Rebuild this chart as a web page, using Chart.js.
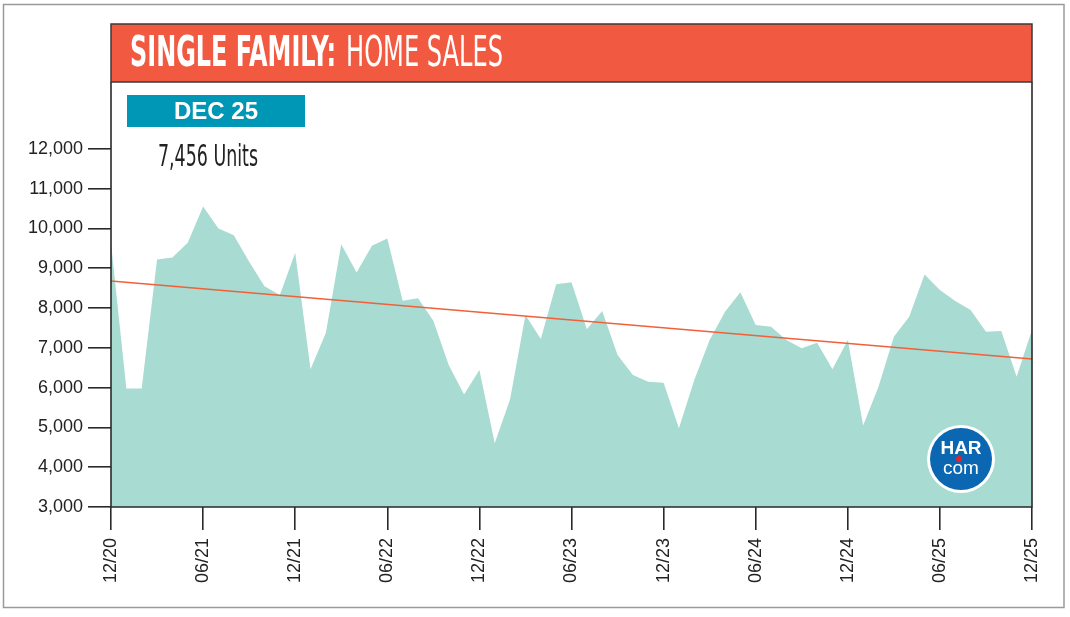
<!DOCTYPE html>
<html>
<head>
<meta charset="utf-8">
<title>Single Family: Home Sales</title>
<script src="https://cdn.jsdelivr.net/npm/chart.js@4.4.1/dist/chart.umd.min.js"></script>
<style>
  html, body { margin: 0; padding: 0; background: #fff; }
  #wrap { width: 1070px; height: 617px; }
</style>
</head>
<body>
<div id="wrap"><canvas id="salesChart" width="1070" height="617"></canvas></div>
<script>
// Monthly single family home sales, Dec 2020 - Dec 2025
const months = [
    '12/20', '01/21', '02/21', '03/21', '04/21', '05/21', '06/21', '07/21', '08/21', '09/21', '10/21', '11/21',
    '12/21', '01/22', '02/22', '03/22', '04/22', '05/22', '06/22', '07/22', '08/22', '09/22', '10/22', '11/22',
    '12/22', '01/23', '02/23', '03/23', '04/23', '05/23', '06/23', '07/23', '08/23', '09/23', '10/23', '11/23',
    '12/23', '01/24', '02/24', '03/24', '04/24', '05/24', '06/24', '07/24', '08/24', '09/24', '10/24', '11/24',
    '12/24', '01/25', '02/25', '03/25', '04/25', '05/25', '06/25', '07/25', '08/25', '09/25', '10/25', '11/25',
    '12/25'
];

const unitSales = [
    9630, 5980, 5980, 9220, 9270, 9640, 10550, 10000, 9830, 9160, 8550, 8330,
    9390, 6460, 7380, 9600, 8890, 9565, 9750, 8185, 8245, 7680, 6570, 5830,
    6440, 4600, 5705, 7825, 7220, 8595, 8645, 7465, 7925, 6820, 6315, 6150,
    6125, 4980, 6190, 7195, 7905, 8395, 7575, 7530, 7195, 6990, 7130, 6460,
    7195, 5045, 6020, 7280, 7780, 8845, 8450, 8175, 7950, 7405, 7420, 6275,
    7456
];

// Trend line end points (start month, end month)
const trendMonths = ['12/20', '12/25'];
const trendValues = [8680, 6720];

// Labelled months on the x axis
const tickMonths = ['12/20', '06/21', '12/21', '06/22', '12/22', '06/23', '12/23', '06/24', '12/24', '06/25', '12/25'];
// Labelled values on the y axis
const yTicks = [3000, 4000, 5000, 6000, 7000, 8000, 9000, 10000, 11000, 12000];

const titleBold = 'SINGLE FAMILY:';
const titleLight = 'HOME SALES';
const badgeText = 'DEC 25';
const latestText = '7,456 Units';

const NARROW = '"Liberation Sans Narrow", "DejaVu Sans Condensed", "Roboto", sans-serif';
const SANS = '"Liberation Sans", Arial, "Helvetica", sans-serif';

// Draw text squeezed horizontally to a given width
function fitText(ctx, text, x, y, width) {
    const w = ctx.measureText(text).width;
    ctx.save();
    ctx.translate(x, y);
    ctx.scale(width / w, 1);
    ctx.fillText(text, 0, 0);
    ctx.restore();
}

const decorations = {
    id: 'decorations',
    beforeDraw(chart) {
        const ctx = chart.ctx;
        ctx.save();
        ctx.fillStyle = '#fff';
        ctx.fillRect(0, 0, chart.width, chart.height);
        // outer border
        ctx.strokeStyle = '#9a9a9a';
        ctx.lineWidth = 1.5;
        ctx.strokeRect(3.5, 4.5, 1060.5, 603);
        ctx.restore();
    },
    afterDraw(chart) {
        const ctx = chart.ctx;
        const area = chart.chartArea;
        ctx.save();

        // plot frame
        ctx.strokeStyle = '#2a2a2a';
        ctx.lineWidth = 1.6;
        ctx.beginPath();
        ctx.moveTo(area.left, area.top);
        ctx.lineTo(area.left, area.bottom);
        ctx.lineTo(area.right, area.bottom);
        ctx.lineTo(area.right, area.top);
        ctx.stroke();

        // title bar
        ctx.fillStyle = '#f15a40';
        ctx.fillRect(area.left, 24, area.right - area.left, 58);
        ctx.strokeStyle = '#3a3a3a';
        ctx.lineWidth = 1.5;
        ctx.strokeRect(area.left, 24, area.right - area.left, 58);

        ctx.fillStyle = '#fff';
        ctx.textBaseline = 'alphabetic';
        ctx.textAlign = 'left';
        ctx.font = 'bold 43px ' + NARROW;
        fitText(ctx, titleBold, 130, 66, 206);
        ctx.font = '43px ' + NARROW;
        fitText(ctx, titleLight, 346, 66, 157);

        // month badge
        ctx.fillStyle = '#0096b6';
        ctx.fillRect(127, 95, 178, 32);
        ctx.fillStyle = '#fff';
        ctx.font = 'bold 24px ' + SANS;
        ctx.textAlign = 'center';
        ctx.fillText(badgeText, 216, 119);

        // latest value
        ctx.fillStyle = '#222';
        ctx.textAlign = 'left';
        ctx.font = '30px ' + NARROW;
        fitText(ctx, latestText, 158, 166, 100);

        // HAR.com logo
        const cx = 961, cy = 459;
        ctx.beginPath();
        ctx.arc(cx, cy, 34, 0, Math.PI * 2);
        ctx.fillStyle = '#fff';
        ctx.fill();
        ctx.beginPath();
        ctx.arc(cx, cy, 31, 0, Math.PI * 2);
        ctx.fillStyle = '#0b67b2';
        ctx.fill();
        ctx.fillStyle = '#fff';
        ctx.textAlign = 'center';
        ctx.font = 'bold 19px ' + SANS;
        ctx.fillText('HAR', cx, 454);
        ctx.font = '19px ' + SANS;
        ctx.fillText('com', cx, 474);
        ctx.beginPath();
        ctx.arc(cx - 2, 459, 3, 0, Math.PI * 2);
        ctx.fillStyle = '#e8202a';
        ctx.fill();

        ctx.restore();
    }
};

const ctx = document.getElementById('salesChart').getContext('2d');
const salesChart = new Chart(ctx, {
    type: 'line',
    data: {
        labels: months,
        datasets: [
            {
                label: 'Home Sales',
                data: unitSales,
                fill: 'start',
                backgroundColor: '#a8dbd1',
                borderWidth: 0,
                borderColor: 'rgba(0,0,0,0)',
                pointRadius: 0,
                tension: 0,
                order: 2
            },
            {
                label: 'Trend',
                data: trendMonths.map((m, i) => ({ x: m, y: trendValues[i] })),
                fill: false,
                borderColor: '#f2603a',
                borderWidth: 1.4,
                pointRadius: 0,
                tension: 0,
                order: 1
            }
        ]
    },
    options: {
        responsive: false,
        animation: false,
        devicePixelRatio: 1,
        layout: {
            padding: { top: 82, right: 38, left: 0, bottom: 0 }
        },
        plugins: {
            legend: { display: false },
            tooltip: { enabled: false }
        },
        scales: {
            x: {
                type: 'category',
                offset: false,
                afterFit(scale) { scale.height = 110; },
                border: { display: false },
                grid: {
                    drawOnChartArea: false,
                    drawTicks: true,
                    tickLength: 23,
                    color: '#2a2a2a',
                    lineWidth: 1.6
                },
                ticks: {
                    autoSkip: false,
                    minRotation: 90,
                    maxRotation: 90,
                    padding: 8,
                    color: '#222',
                    font: { family: SANS, size: 18 },
                    callback(value) {
                        const m = months[value];
                        return tickMonths.includes(m) ? m : null;
                    }
                }
            },
            y: {
                min: 3000,
                max: 13680,
                afterFit(scale) { scale.width = 111; },
                afterBuildTicks(scale) {
                    scale.ticks = yTicks.map(v => ({ value: v }));
                },
                border: { display: false },
                grid: {
                    drawOnChartArea: false,
                    drawTicks: true,
                    tickLength: 23,
                    color: '#2a2a2a',
                    lineWidth: 1.6
                },
                ticks: {
                    padding: 5,
                    color: '#222',
                    font: { family: SANS, size: 18 },
                    callback(value) {
                        return value.toLocaleString('en-US');
                    }
                }
            }
        }
    },
    plugins: [decorations]
});
</script>
</body>
</html>
